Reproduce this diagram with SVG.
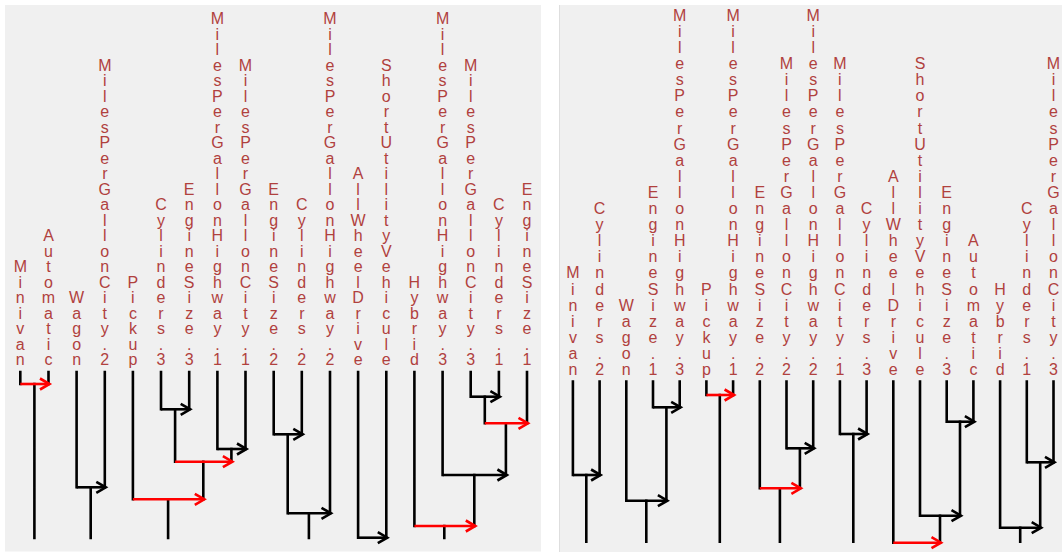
<svg xmlns="http://www.w3.org/2000/svg" width="1062" height="552" viewBox="0 0 1062 552">
<defs>
<style>
.lbl{font-family:"Liberation Sans",Arial,sans-serif;font-size:16px;fill:#b0413e;text-anchor:middle}
.k{stroke:#000;stroke-width:2.6;fill:none;stroke-linecap:square}
.r{stroke:#ff0000;stroke-width:2.6;fill:none;stroke-linecap:square}
.ka{stroke:#000;stroke-width:2.6;fill:none;marker-end:url(#ak)}
.ra{stroke:#ff0000;stroke-width:2.6;fill:none;marker-end:url(#ar)}
</style>
<marker id="ak" markerUnits="userSpaceOnUse" markerWidth="20" markerHeight="20" refX="0" refY="0" orient="auto" overflow="visible">
<path d="M-8.5,-5.5 L1,0 L-8.5,5.5" fill="none" stroke="#000" stroke-width="2.6"/>
</marker>
<marker id="ar" markerUnits="userSpaceOnUse" markerWidth="20" markerHeight="20" refX="0" refY="0" orient="auto" overflow="visible">
<path d="M-8.5,-5.5 L1,0 L-8.5,5.5" fill="none" stroke="#ff0000" stroke-width="2.6"/>
</marker>
</defs>
<rect x="0" y="0" width="1062" height="552" fill="#ffffff"/>
<rect x="5" y="5" width="536" height="546.5" fill="#f0f0f0"/>
<rect x="560" y="5" width="502" height="547" fill="#f0f0f0"/>
<line x1="559.5" y1="5" x2="559.5" y2="552" stroke="#dedede" stroke-width="1"/>

<g id="left-labels">
<g id="L-Minivan" transform="translate(20.3,0)"><text class="lbl" y="272" x="0 0 0 0 0, 0 0 0 0 0, 0 0 0 0 0, 0 0 0 0 0, 0 0 0 0 0" dy="0 15.5 15.5 15.5 15.5, 15.5 15.5 15.5 15.5 15.5, 15.5 15.5 15.5 15.5 15.5, 15.5 15.5 15.5 15.5 15.5, 15.5 15.5 15.5 15.5 15.5">Minivan</text></g>
<g id="L-Automatic" transform="translate(48.5,0)"><text class="lbl" y="241" x="0 0 0 0 0, 0 0 0 0 0, 0 0 0 0 0, 0 0 0 0 0, 0 0 0 0 0" dy="0 15.5 15.5 15.5 15.5, 15.5 15.5 15.5 15.5 15.5, 15.5 15.5 15.5 15.5 15.5, 15.5 15.5 15.5 15.5 15.5, 15.5 15.5 15.5 15.5 15.5">Automatic</text></g>
<g id="L-Wagon" transform="translate(76.6,0)"><text class="lbl" y="303" x="0 0 0 0 0, 0 0 0 0 0, 0 0 0 0 0, 0 0 0 0 0, 0 0 0 0 0" dy="0 15.5 15.5 15.5 15.5, 15.5 15.5 15.5 15.5 15.5, 15.5 15.5 15.5 15.5 15.5, 15.5 15.5 15.5 15.5 15.5, 15.5 15.5 15.5 15.5 15.5">Wagon</text></g>
<g id="L-MPGCity2" transform="translate(104.8,0)"><text class="lbl" y="70.5" x="0 0 0 0 0, 0 0 0 0 0, 0 0 0 0 0, 0 0 0 0 0, 0 0 0 0 0" dy="0 15.5 15.5 15.5 15.5, 15.5 15.5 15.5 15.5 15.5, 15.5 15.5 15.5 15.5 15.5, 15.5 15.5 15.5 15.5 15.5, 15.5 15.5 15.5 15.5 15.5">MilesPerGallonCity.2</text></g>
<g id="L-Pickup" transform="translate(132.9,0)"><text class="lbl" y="287.5" x="0 0 0 0 0, 0 0 0 0 0, 0 0 0 0 0, 0 0 0 0 0, 0 0 0 0 0" dy="0 15.5 15.5 15.5 15.5, 15.5 15.5 15.5 15.5 15.5, 15.5 15.5 15.5 15.5 15.5, 15.5 15.5 15.5 15.5 15.5, 15.5 15.5 15.5 15.5 15.5">Pickup</text></g>
<g id="L-Cylinders3" transform="translate(161,0)"><text class="lbl" y="210" x="0 0 0 0 0, 0 0 0 0 0, 0 0 0 0 0, 0 0 0 0 0, 0 0 0 0 0" dy="0 15.5 15.5 15.5 15.5, 15.5 15.5 15.5 15.5 15.5, 15.5 15.5 15.5 15.5 15.5, 15.5 15.5 15.5 15.5 15.5, 15.5 15.5 15.5 15.5 15.5">Cylinders.3</text></g>
<g id="L-EngineSize3" transform="translate(189.2,0)"><text class="lbl" y="194.5" x="0 0 0 0 0, 0 0 0 0 0, 0 0 0 0 0, 0 0 0 0 0, 0 0 0 0 0" dy="0 15.5 15.5 15.5 15.5, 15.5 15.5 15.5 15.5 15.5, 15.5 15.5 15.5 15.5 15.5, 15.5 15.5 15.5 15.5 15.5, 15.5 15.5 15.5 15.5 15.5">EngineSize.3</text></g>
<g id="L-MPGHighway1" transform="translate(217.4,0)"><text class="lbl" y="24" x="0 0 0 0 0, 0 0 0 0 0, 0 0 0 0 0, 0 0 0 0 0, 0 0 0 0 0" dy="0 15.5 15.5 15.5 15.5, 15.5 15.5 15.5 15.5 15.5, 15.5 15.5 15.5 15.5 15.5, 15.5 15.5 15.5 15.5 15.5, 15.5 15.5 15.5 15.5 15.5">MilesPerGallonHighway.1</text></g>
<g id="L-MPGCity1" transform="translate(245.5,0)"><text class="lbl" y="70.5" x="0 0 0 0 0, 0 0 0 0 0, 0 0 0 0 0, 0 0 0 0 0, 0 0 0 0 0" dy="0 15.5 15.5 15.5 15.5, 15.5 15.5 15.5 15.5 15.5, 15.5 15.5 15.5 15.5 15.5, 15.5 15.5 15.5 15.5 15.5, 15.5 15.5 15.5 15.5 15.5">MilesPerGallonCity.1</text></g>
<g id="L-EngineSize2" transform="translate(273.7,0)"><text class="lbl" y="194.5" x="0 0 0 0 0, 0 0 0 0 0, 0 0 0 0 0, 0 0 0 0 0, 0 0 0 0 0" dy="0 15.5 15.5 15.5 15.5, 15.5 15.5 15.5 15.5 15.5, 15.5 15.5 15.5 15.5 15.5, 15.5 15.5 15.5 15.5 15.5, 15.5 15.5 15.5 15.5 15.5">EngineSize.2</text></g>
<g id="L-Cylinders2" transform="translate(301.8,0)"><text class="lbl" y="210" x="0 0 0 0 0, 0 0 0 0 0, 0 0 0 0 0, 0 0 0 0 0, 0 0 0 0 0" dy="0 15.5 15.5 15.5 15.5, 15.5 15.5 15.5 15.5 15.5, 15.5 15.5 15.5 15.5 15.5, 15.5 15.5 15.5 15.5 15.5, 15.5 15.5 15.5 15.5 15.5">Cylinders.2</text></g>
<g id="L-MPGHighway2" transform="translate(330,0)"><text class="lbl" y="24" x="0 0 0 0 0, 0 0 0 0 0, 0 0 0 0 0, 0 0 0 0 0, 0 0 0 0 0" dy="0 15.5 15.5 15.5 15.5, 15.5 15.5 15.5 15.5 15.5, 15.5 15.5 15.5 15.5 15.5, 15.5 15.5 15.5 15.5 15.5, 15.5 15.5 15.5 15.5 15.5">MilesPerGallonHighway.2</text></g>
<g id="L-AllWheelDrive" transform="translate(358.1,0)"><text class="lbl" y="179" x="0 0 0 0 0, 0 0 0 0 0, 0 0 0 0 0, 0 0 0 0 0, 0 0 0 0 0" dy="0 15.5 15.5 15.5 15.5, 15.5 15.5 15.5 15.5 15.5, 15.5 15.5 15.5 15.5 15.5, 15.5 15.5 15.5 15.5 15.5, 15.5 15.5 15.5 15.5 15.5">AllWheelDrive</text></g>
<g id="L-ShortUtilityVehicule" transform="translate(386.3,0)"><text class="lbl" y="70.5" x="0 0 0 0 0, 0 0 0 0 0, 0 0 0 0 0, 0 0 0 0 0, 0 0 0 0 0" dy="0 15.5 15.5 15.5 15.5, 15.5 15.5 15.5 15.5 15.5, 15.5 15.5 15.5 15.5 15.5, 15.5 15.5 15.5 15.5 15.5, 15.5 15.5 15.5 15.5 15.5">ShortUtilityVehicule</text></g>
<g id="L-Hybrid" transform="translate(414.4,0)"><text class="lbl" y="287.5" x="0 0 0 0 0, 0 0 0 0 0, 0 0 0 0 0, 0 0 0 0 0, 0 0 0 0 0" dy="0 15.5 15.5 15.5 15.5, 15.5 15.5 15.5 15.5 15.5, 15.5 15.5 15.5 15.5 15.5, 15.5 15.5 15.5 15.5 15.5, 15.5 15.5 15.5 15.5 15.5">Hybrid</text></g>
<g id="L-MPGHighway3" transform="translate(442.6,0)"><text class="lbl" y="24" x="0 0 0 0 0, 0 0 0 0 0, 0 0 0 0 0, 0 0 0 0 0, 0 0 0 0 0" dy="0 15.5 15.5 15.5 15.5, 15.5 15.5 15.5 15.5 15.5, 15.5 15.5 15.5 15.5 15.5, 15.5 15.5 15.5 15.5 15.5, 15.5 15.5 15.5 15.5 15.5">MilesPerGallonHighway.3</text></g>
<g id="L-MPGCity3" transform="translate(470.7,0)"><text class="lbl" y="70.5" x="0 0 0 0 0, 0 0 0 0 0, 0 0 0 0 0, 0 0 0 0 0, 0 0 0 0 0" dy="0 15.5 15.5 15.5 15.5, 15.5 15.5 15.5 15.5 15.5, 15.5 15.5 15.5 15.5 15.5, 15.5 15.5 15.5 15.5 15.5, 15.5 15.5 15.5 15.5 15.5">MilesPerGallonCity.3</text></g>
<g id="L-Cylinders1" transform="translate(498.9,0)"><text class="lbl" y="210" x="0 0 0 0 0, 0 0 0 0 0, 0 0 0 0 0, 0 0 0 0 0, 0 0 0 0 0" dy="0 15.5 15.5 15.5 15.5, 15.5 15.5 15.5 15.5 15.5, 15.5 15.5 15.5 15.5 15.5, 15.5 15.5 15.5 15.5 15.5, 15.5 15.5 15.5 15.5 15.5">Cylinders.1</text></g>
<g id="L-EngineSize1" transform="translate(527,0)"><text class="lbl" y="194.5" x="0 0 0 0 0, 0 0 0 0 0, 0 0 0 0 0, 0 0 0 0 0, 0 0 0 0 0" dy="0 15.5 15.5 15.5 15.5, 15.5 15.5 15.5 15.5 15.5, 15.5 15.5 15.5 15.5 15.5, 15.5 15.5 15.5 15.5 15.5, 15.5 15.5 15.5 15.5 15.5">EngineSize.1</text></g>
</g>

<g id="right-labels">
<g id="R-Minivan" transform="translate(572.9,0)"><text class="lbl" y="278.4" x="0 0 0 0 0, 0 0 0 0 0, 0 0 0 0 0, 0 0 0 0 0, 0 0 0 0 0" dy="0 16.1 16.1 16.1 16.1, 16.1 16.1 16.1 16.1 16.1, 16.1 16.1 16.1 16.1 16.1, 16.1 16.1 16.1 16.1 16.1, 16.1 16.1 16.1 16.1 16.1">Minivan</text></g>
<g id="R-Cylinders2" transform="translate(599.6,0)"><text class="lbl" y="214" x="0 0 0 0 0, 0 0 0 0 0, 0 0 0 0 0, 0 0 0 0 0, 0 0 0 0 0" dy="0 16.1 16.1 16.1 16.1, 16.1 16.1 16.1 16.1 16.1, 16.1 16.1 16.1 16.1 16.1, 16.1 16.1 16.1 16.1 16.1, 16.1 16.1 16.1 16.1 16.1">Cylinders.2</text></g>
<g id="R-Wagon" transform="translate(626.3,0)"><text class="lbl" y="310.6" x="0 0 0 0 0, 0 0 0 0 0, 0 0 0 0 0, 0 0 0 0 0, 0 0 0 0 0" dy="0 16.1 16.1 16.1 16.1, 16.1 16.1 16.1 16.1 16.1, 16.1 16.1 16.1 16.1 16.1, 16.1 16.1 16.1 16.1 16.1, 16.1 16.1 16.1 16.1 16.1">Wagon</text></g>
<g id="R-EngineSize1" transform="translate(653,0)"><text class="lbl" y="197.9" x="0 0 0 0 0, 0 0 0 0 0, 0 0 0 0 0, 0 0 0 0 0, 0 0 0 0 0" dy="0 16.1 16.1 16.1 16.1, 16.1 16.1 16.1 16.1 16.1, 16.1 16.1 16.1 16.1 16.1, 16.1 16.1 16.1 16.1 16.1, 16.1 16.1 16.1 16.1 16.1">EngineSize.1</text></g>
<g id="R-MPGHighway3" transform="translate(679.7,0)"><text class="lbl" y="20.8" x="0 0 0 0 0, 0 0 0 0 0, 0 0 0 0 0, 0 0 0 0 0, 0 0 0 0 0" dy="0 16.1 16.1 16.1 16.1, 16.1 16.1 16.1 16.1 16.1, 16.1 16.1 16.1 16.1 16.1, 16.1 16.1 16.1 16.1 16.1, 16.1 16.1 16.1 16.1 16.1">MilesPerGallonHighway.3</text></g>
<g id="R-Pickup" transform="translate(706.4,0)"><text class="lbl" y="294.5" x="0 0 0 0 0, 0 0 0 0 0, 0 0 0 0 0, 0 0 0 0 0, 0 0 0 0 0" dy="0 16.1 16.1 16.1 16.1, 16.1 16.1 16.1 16.1 16.1, 16.1 16.1 16.1 16.1 16.1, 16.1 16.1 16.1 16.1 16.1, 16.1 16.1 16.1 16.1 16.1">Pickup</text></g>
<g id="R-MPGHighway1" transform="translate(733.1,0)"><text class="lbl" y="20.8" x="0 0 0 0 0, 0 0 0 0 0, 0 0 0 0 0, 0 0 0 0 0, 0 0 0 0 0" dy="0 16.1 16.1 16.1 16.1, 16.1 16.1 16.1 16.1 16.1, 16.1 16.1 16.1 16.1 16.1, 16.1 16.1 16.1 16.1 16.1, 16.1 16.1 16.1 16.1 16.1">MilesPerGallonHighway.1</text></g>
<g id="R-EngineSize2" transform="translate(759.8,0)"><text class="lbl" y="197.9" x="0 0 0 0 0, 0 0 0 0 0, 0 0 0 0 0, 0 0 0 0 0, 0 0 0 0 0" dy="0 16.1 16.1 16.1 16.1, 16.1 16.1 16.1 16.1 16.1, 16.1 16.1 16.1 16.1 16.1, 16.1 16.1 16.1 16.1 16.1, 16.1 16.1 16.1 16.1 16.1">EngineSize.2</text></g>
<g id="R-MPGCity2" transform="translate(786.5,0)"><text class="lbl" y="69.1" x="0 0 0 0 0, 0 0 0 0 0, 0 0 0 0 0, 0 0 0 0 0, 0 0 0 0 0" dy="0 16.1 16.1 16.1 16.1, 16.1 16.1 16.1 16.1 16.1, 16.1 16.1 16.1 16.1 16.1, 16.1 16.1 16.1 16.1 16.1, 16.1 16.1 16.1 16.1 16.1">MilesPerGallonCity.2</text></g>
<g id="R-MPGHighway2" transform="translate(813.2,0)"><text class="lbl" y="20.8" x="0 0 0 0 0, 0 0 0 0 0, 0 0 0 0 0, 0 0 0 0 0, 0 0 0 0 0" dy="0 16.1 16.1 16.1 16.1, 16.1 16.1 16.1 16.1 16.1, 16.1 16.1 16.1 16.1 16.1, 16.1 16.1 16.1 16.1 16.1, 16.1 16.1 16.1 16.1 16.1">MilesPerGallonHighway.2</text></g>
<g id="R-MPGCity1" transform="translate(839.9,0)"><text class="lbl" y="69.1" x="0 0 0 0 0, 0 0 0 0 0, 0 0 0 0 0, 0 0 0 0 0, 0 0 0 0 0" dy="0 16.1 16.1 16.1 16.1, 16.1 16.1 16.1 16.1 16.1, 16.1 16.1 16.1 16.1 16.1, 16.1 16.1 16.1 16.1 16.1, 16.1 16.1 16.1 16.1 16.1">MilesPerGallonCity.1</text></g>
<g id="R-Cylinders3" transform="translate(866.6,0)"><text class="lbl" y="214" x="0 0 0 0 0, 0 0 0 0 0, 0 0 0 0 0, 0 0 0 0 0, 0 0 0 0 0" dy="0 16.1 16.1 16.1 16.1, 16.1 16.1 16.1 16.1 16.1, 16.1 16.1 16.1 16.1 16.1, 16.1 16.1 16.1 16.1 16.1, 16.1 16.1 16.1 16.1 16.1">Cylinders.3</text></g>
<g id="R-AllWheelDrive" transform="translate(893.3,0)"><text class="lbl" y="181.8" x="0 0 0 0 0, 0 0 0 0 0, 0 0 0 0 0, 0 0 0 0 0, 0 0 0 0 0" dy="0 16.1 16.1 16.1 16.1, 16.1 16.1 16.1 16.1 16.1, 16.1 16.1 16.1 16.1 16.1, 16.1 16.1 16.1 16.1 16.1, 16.1 16.1 16.1 16.1 16.1">AllWheelDrive</text></g>
<g id="R-ShortUtilityVehicule" transform="translate(920,0)"><text class="lbl" y="69.1" x="0 0 0 0 0, 0 0 0 0 0, 0 0 0 0 0, 0 0 0 0 0, 0 0 0 0 0" dy="0 16.1 16.1 16.1 16.1, 16.1 16.1 16.1 16.1 16.1, 16.1 16.1 16.1 16.1 16.1, 16.1 16.1 16.1 16.1 16.1, 16.1 16.1 16.1 16.1 16.1">ShortUtilityVehicule</text></g>
<g id="R-EngineSize3" transform="translate(946.7,0)"><text class="lbl" y="197.9" x="0 0 0 0 0, 0 0 0 0 0, 0 0 0 0 0, 0 0 0 0 0, 0 0 0 0 0" dy="0 16.1 16.1 16.1 16.1, 16.1 16.1 16.1 16.1 16.1, 16.1 16.1 16.1 16.1 16.1, 16.1 16.1 16.1 16.1 16.1, 16.1 16.1 16.1 16.1 16.1">EngineSize.3</text></g>
<g id="R-Automatic" transform="translate(973.4,0)"><text class="lbl" y="246.2" x="0 0 0 0 0, 0 0 0 0 0, 0 0 0 0 0, 0 0 0 0 0, 0 0 0 0 0" dy="0 16.1 16.1 16.1 16.1, 16.1 16.1 16.1 16.1 16.1, 16.1 16.1 16.1 16.1 16.1, 16.1 16.1 16.1 16.1 16.1, 16.1 16.1 16.1 16.1 16.1">Automatic</text></g>
<g id="R-Hybrid" transform="translate(1000.1,0)"><text class="lbl" y="294.5" x="0 0 0 0 0, 0 0 0 0 0, 0 0 0 0 0, 0 0 0 0 0, 0 0 0 0 0" dy="0 16.1 16.1 16.1 16.1, 16.1 16.1 16.1 16.1 16.1, 16.1 16.1 16.1 16.1 16.1, 16.1 16.1 16.1 16.1 16.1, 16.1 16.1 16.1 16.1 16.1">Hybrid</text></g>
<g id="R-Cylinders1" transform="translate(1026.8,0)"><text class="lbl" y="214" x="0 0 0 0 0, 0 0 0 0 0, 0 0 0 0 0, 0 0 0 0 0, 0 0 0 0 0" dy="0 16.1 16.1 16.1 16.1, 16.1 16.1 16.1 16.1 16.1, 16.1 16.1 16.1 16.1 16.1, 16.1 16.1 16.1 16.1 16.1, 16.1 16.1 16.1 16.1 16.1">Cylinders.1</text></g>
<g id="R-MPGCity3" transform="translate(1053.5,0)"><text class="lbl" y="69.1" x="0 0 0 0 0, 0 0 0 0 0, 0 0 0 0 0, 0 0 0 0 0, 0 0 0 0 0" dy="0 16.1 16.1 16.1 16.1, 16.1 16.1 16.1 16.1 16.1, 16.1 16.1 16.1 16.1 16.1, 16.1 16.1 16.1 16.1 16.1, 16.1 16.1 16.1 16.1 16.1">MilesPerGallonCity.3</text></g>
</g>

<g id="connectors">
<!-- left panel verticals -->
<path class="k" d="M20.3,372V384 M48.5,372V384 M76.6,372V487.3 M104.8,372V487.3 M132.9,372V499.3 M161,372V409.3 M189.2,372V409.3 M217.4,372V449 M245.5,372V449 M273.7,372V434.3 M301.8,372V434.3 M330,372V513.3 M358.1,372V537.7 M386.3,372V537.7 M414.4,372V526 M442.6,372V475 M470.7,372V396.7 M498.9,372V396.7 M527,372V423.3"/>
<path class="k" d="M34.4,384V538 M90.7,487.3V538 M175.1,409.3V461.7 M231.4,449V461.7 M203.3,461.7V499.3 M168.1,499.3V538 M287.7,434.3V513.3 M308.9,513.3V538 M484.8,396.7V423.3 M505.9,423.3V475 M474.3,475V526 M444.3,526V538"/>
<!-- left panel horizontals -->
<path class="ra" d="M20.3,384H48.5"/>
<path class="ka" d="M76.6,487.3H104.8"/>
<path class="ka" d="M161,409.3H189.2"/>
<path class="ka" d="M217.4,449H245.5"/>
<path class="ra" d="M175.1,461.7H231.4"/>
<path class="ra" d="M132.9,499.3H203.3"/>
<path class="ka" d="M273.7,434.3H301.8"/>
<path class="ka" d="M287.7,513.3H330"/>
<path class="ka" d="M358.1,537.7H386.3"/>
<path class="ka" d="M470.7,396.7H498.9"/>
<path class="ra" d="M484.8,423.3H527"/>
<path class="ka" d="M442.6,475H505.9"/>
<path class="ra" d="M414.4,526H474.3"/>
<!-- right panel verticals -->
<path class="k" d="M572.9,381.5V475 M599.6,381.5V475 M626.3,381.5V500.7 M653,381.5V407.3 M679.7,381.5V407.3 M706.4,381.5V395 M733.1,381.5V395 M759.8,381.5V488.3 M786.5,381.5V448.3 M813.2,381.5V448.3 M839.9,381.5V434 M866.6,381.5V434 M893.3,381.5V542.7 M920,381.5V515.7 M946.7,381.5V421.7 M973.4,381.5V421.7 M1000.1,381.5V527.7 M1026.8,381.5V462.3 M1053.5,381.5V462.3"/>
<path class="k" d="M586.3,475V541.7 M666.4,407.3V500.7 M646.3,500.7V541.7 M719.8,395V541.7 M799.9,448.3V488.3 M779.9,488.3V541.7 M853.3,434V541.7 M960,421.7V515.7 M940,515.7V542.7 M1040.2,462.3V527.7 M1020.2,527.7V541.7"/>
<!-- right panel horizontals -->
<path class="ka" d="M572.9,475H599.6"/>
<path class="ka" d="M653,407.3H679.7"/>
<path class="ka" d="M626.3,500.7H666.4"/>
<path class="ra" d="M706.4,395H733.1"/>
<path class="ka" d="M786.5,448.3H813.2"/>
<path class="ra" d="M759.8,488.3H799.9"/>
<path class="ka" d="M839.9,434H866.6"/>
<path class="ka" d="M946.7,421.7H973.4"/>
<path class="ka" d="M920,515.7H960"/>
<path class="ra" d="M893.3,542.7H940"/>
<path class="ka" d="M1026.8,462.3H1053.5"/>
<path class="ka" d="M1000.1,527.7H1040.2"/>
</g>
</svg>
